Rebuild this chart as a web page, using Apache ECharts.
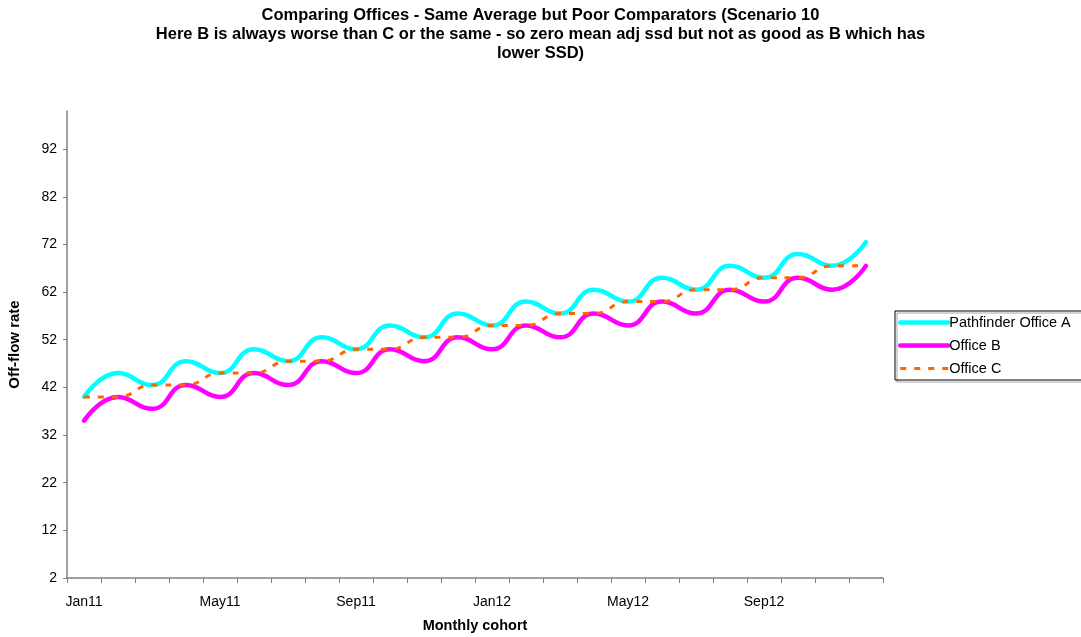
<!DOCTYPE html>
<html>
<head>
<meta charset="utf-8">
<script src="https://cdn.jsdelivr.net/npm/echarts@6/dist/echarts.min.js"></script>
<style>
  html, body { margin: 0; padding: 0; background: #fff; }
  #chart { width: 1081px; height: 637px; }
</style>
</head>
<body>
<div id="chart"></div>
<script>
// Monthly cohorts, Jan 2011 to Dec 2012
const months = ['Jan11','Feb11','Mar11','Apr11','May11','Jun11','Jul11','Aug11','Sep11','Oct11','Nov11','Dec11',
                'Jan12','Feb12','Mar12','Apr12','May12','Jun12','Jul12','Aug12','Sep12','Oct12','Nov12','Dec12'];

// Off-flow rates per office
const officeA = [40, 45, 42.5, 47.5, 45, 50, 47.5, 52.5, 50, 55, 52.5, 57.5,
                 55, 60, 57.5, 62.5, 60, 65, 62.5, 67.5, 65, 70, 67.5, 72.5];
const officeB = [35, 40, 37.5, 42.5, 40, 45, 42.5, 47.5, 45, 50, 47.5, 52.5,
                 50, 55, 52.5, 57.5, 55, 60, 57.5, 62.5, 60, 65, 62.5, 67.5];
const officeC = [40, 40, 42.5, 42.5, 45, 45, 47.5, 47.5, 50, 50, 52.5, 52.5,
                 55, 55, 57.5, 57.5, 60, 60, 62.5, 62.5, 65, 65, 67.5, 67.5];

const seriesNames = ['Pathfinder Office A', 'Office B', 'Office C'];

const FONT = '"Liberation Sans", Arial, sans-serif';
const chart = echarts.init(document.getElementById('chart'), null, { renderer: 'canvas' });

chart.setOption({
  animation: false,
  backgroundColor: '#ffffff',
  textStyle: { fontFamily: FONT },
  title: {
    text: 'Comparing Offices - Same Average but Poor Comparators (Scenario 10\nHere B is always worse than C or the same - so zero mean adj ssd but not as good as B which has\nlower SSD)',
    left: 'center',
    top: 1,
    textStyle: { fontFamily: FONT, fontSize: 16.5, fontWeight: 'bold', color: '#000', lineHeight: 19 }
  },
  legend: {
    orient: 'vertical',
    left: 895,
    top: 311,
    padding: [4, 200, 4, 3],
    itemGap: 8,
    itemWidth: 48,
    itemHeight: 14,
    borderColor: '#000',
    borderWidth: 1,
    shadowColor: 'rgba(0,0,0,0.35)',
    shadowOffsetX: 2,
    shadowOffsetY: 2,
    itemStyle: { opacity: 0 },
    textStyle: { fontFamily: FONT, fontSize: 14.5, color: '#000', padding: [0, 0, 0, -4] },
    data: [
      { name: seriesNames[0], lineStyle: { width: 4.5 } },
      { name: seriesNames[1], lineStyle: { width: 4.5 } },
      { name: seriesNames[2], lineStyle: { width: 3 } }
    ]
  },
  grid: { left: 67, right: 198, top: 111, bottom: 59, containLabel: false, outerBoundsMode: 'none' },
  xAxis: {
    type: 'category',
    data: months,
    boundaryGap: true,
    name: 'Monthly cohort',
    nameLocation: 'middle',
    nameGap: 40,
    nameTextStyle: { fontFamily: FONT, fontSize: 14.5, fontWeight: 'bold', color: '#000' },
    axisLine: { lineStyle: { color: '#808080', width: 1.5 } },
    axisTick: { show: true, interval: 0, length: 5, lineStyle: { color: '#808080' } },
    axisLabel: { interval: 3, margin: 17, fontFamily: FONT, fontSize: 14, color: '#000' },
    splitLine: { show: false }
  },
  yAxis: {
    type: 'value',
    min: 2,
    max: 100,
    interval: 10,
    name: 'Off-flow rate',
    nameLocation: 'middle',
    nameGap: 45,
    nameTextStyle: { fontFamily: FONT, fontSize: 15, fontWeight: 'bold', color: '#000' },
    axisLine: { show: true, lineStyle: { color: '#808080', width: 1.5 } },
    axisTick: { show: true, length: 4, lineStyle: { color: '#808080' } },
    axisLabel: { showMaxLabel: false, margin: 10, fontFamily: FONT, fontSize: 14, color: '#000' },
    splitLine: { show: false }
  },
  series: [
    {
      name: seriesNames[0], type: 'line', data: officeA, smooth: 0.5,
      symbol: 'none', showSymbol: false,
      color: '#00FFFF',
      lineStyle: { color: '#00FFFF', width: 4.5, cap: 'round' },
      z: 3
    },
    {
      name: seriesNames[1], type: 'line', data: officeB, smooth: 0.5,
      symbol: 'none', showSymbol: false,
      color: '#FF00FF',
      lineStyle: { color: '#FF00FF', width: 4.5, cap: 'round' },
      z: 4
    },
    {
      name: seriesNames[2], type: 'line', data: officeC, smooth: 0.5,
      symbol: 'none', showSymbol: false,
      color: '#FF6600',
      lineStyle: { color: '#FF6600', width: 3, type: [6, 8] },
      z: 5
    }
  ]
});
</script>
</body>
</html>
